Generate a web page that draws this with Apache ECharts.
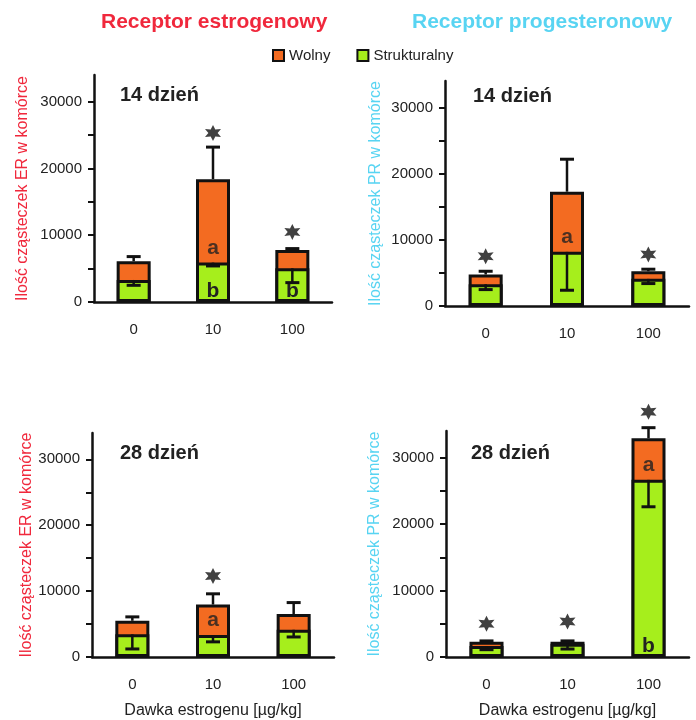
<!DOCTYPE html>
<html>
<head>
<meta charset="utf-8">
<script src="https://cdn.jsdelivr.net/npm/echarts@6/dist/echarts.min.js"></script>
<style>
html, body { margin: 0; padding: 0; background: #fff; }
#chart { width: 696px; height: 720px; }
</style>
</head>
<body>
<div id="chart"></div>
<script>
const categories = ['0', '10', '100'];
const yTicks = [0, 5000, 10000, 15000, 20000, 25000, 30000];
const yLabels = [0, 10000, 20000, 30000];

// ER, 14 dzien
const er14Strukt = [3300, 5900, 5050];
const er14Wolny = [2800, 12500, 2750];
const er14ErrUp = [6800, 23200, 8000];
const er14ErrDown = [2500, 5400, 2900];
const er14Stars = [null, 25300, 10500];
const er14LetterW = ['', 'a', ''];
const er14LetterS = ['', 'b', 'b'];

// PR, 14 dzien
const pr14Strukt = [3290, 8180, 4100];
const pr14Wolny = [1470, 9090, 1150];
const pr14ErrUp = [5250, 22180, 5560];
const pr14ErrDown = [2480, 2380, 3390];
const pr14Stars = [7500, null, 7800];
const pr14LetterW = ['', 'a', ''];
const pr14LetterS = ['', '', ''];

// ER, 28 dzien
const er28Strukt = [3440, 3330, 4130];
const er28Wolny = [2060, 4630, 2400];
const er28ErrUp = [6090, 9590, 8260];
const er28ErrDown = [1220, 2300, 3040];
const er28Stars = [null, 12300, null];
const er28LetterW = ['', 'a', ''];
const er28LetterS = ['', '', ''];

// PR, 28 dzien
const pr28Strukt = [1650, 2000, 26650];
const pr28Wolny = [630, 280, 6250];
const pr28ErrUp = [2420, 2420, 34500];
const pr28ErrDown = [1100, 1200, 22600];
const pr28Stars = [5000, 5350, 36900];
const pr28LetterW = ['', '', 'a'];
const pr28LetterS = ['', '', 'b'];

const FONT = 'Liberation Sans, Arial, sans-serif';
const ORANGE = '#F36B21';
const GREEN = '#A6EE1C';
const RED = '#F0283C';
const CYAN = '#58D4F2';
// gwiazdka szescioramienna
const STAR = 'path://M0,-10 L2.5,-4.33 L8.66,-5 L5,0 L8.66,5 L2.5,4.33 L0,10 L-2.5,4.33 L-8.66,5 L-5,0 L-8.66,-5 L-2.5,-4.33 Z';

const chart = echarts.init(document.getElementById('chart'));

function renderErr (params, api) {
  const a = api.coord([api.value(0), api.value(1)]);
  const b = api.coord([api.value(0), api.value(2)]);
  return {
    type: 'group',
    children: [
      { type: 'line', shape: { x1: a[0], y1: a[1], x2: b[0], y2: b[1] }, style: { stroke: '#111', lineWidth: 2.5 } },
      { type: 'line', shape: { x1: b[0] - 7, y1: b[1], x2: b[0] + 7, y2: b[1] }, style: { stroke: '#111', lineWidth: 3 } }
    ]
  };
}

const grids = [], xAxes = [], yAxes = [], series = [], titles = [];

function panel (idx, box, yName, yColor, nameGap, heading, headPos, strukt, wolny, errUp, errDown, stars, lettersW, lettersS, xName) {
  const total = strukt.map((v, i) => v + wolny[i]);
  grids.push(box);
  xAxes.push({
    type: 'category', gridIndex: idx, data: categories,
    axisLine: { lineStyle: { color: '#111', width: 2.5 } },
    axisTick: { length: 6, lineStyle: { color: '#111', width: 2 } },
    axisLabel: { color: '#222', fontSize: 15, fontFamily: FONT, margin: 20 },
    name: xName, nameLocation: 'middle', nameGap: 46,
    nameTextStyle: { color: '#222', fontSize: 16, fontFamily: FONT }
  });
  yAxes.push({
    type: 'value', gridIndex: idx, min: 0, max: 34000,
    name: yName, nameLocation: 'middle', nameRotate: 90, nameGap: nameGap,
    nameTextStyle: { color: yColor, fontSize: 16, fontFamily: FONT },
    splitLine: { show: false },
    axisLine: { show: true, lineStyle: { color: '#111', width: 2.5 } },
    axisTick: { show: true, length: 6, customValues: yTicks, lineStyle: { color: '#111', width: 2 } },
    axisLabel: { customValues: yLabels, formatter: v => String(v), color: '#222', fontSize: 15, fontFamily: FONT, margin: 12 }
  });
  titles.push({
    text: heading, left: headPos[0], top: headPos[1], padding: 0,
    textStyle: { fontSize: 20, fontWeight: 'bold', color: '#222', fontFamily: FONT }
  });
  const letter = { show: true, fontSize: 21, fontWeight: 'bold', color: '#222', fontFamily: FONT };
  // Wolny: rysowany jako caly slupek (strukturalny + wolny), strukturalny na wierzchu
  series.push({
    name: 'Wolny', type: 'bar', xAxisIndex: idx, yAxisIndex: idx,
    barWidth: 34, barGap: '-100%', data: total,
    itemStyle: { color: ORANGE, borderColor: '#111', borderWidth: 3 }
  });
  series.push({
    name: 'Strukturalny', type: 'bar', xAxisIndex: idx, yAxisIndex: idx,
    barWidth: 34, barGap: '-100%', data: strukt,
    itemStyle: { color: GREEN, borderColor: '#111', borderWidth: 3 },
    label: Object.assign({}, letter, { position: 'insideBottom', distance: 0, formatter: p => lettersS[p.dataIndex] })
  });
  series.push({
    type: 'scatter', xAxisIndex: idx, yAxisIndex: idx, symbolSize: 0, z: 4, silent: true,
    data: strukt.map((v, i) => [i, v]),
    label: Object.assign({}, letter, { position: 'top', distance: 4, formatter: p => lettersW[p.dataIndex] })
  });
  series.push({
    type: 'custom', xAxisIndex: idx, yAxisIndex: idx, z: 5, renderItem: renderErr,
    data: categories.map((c, i) => [i, total[i], errUp[i]])
  });
  series.push({
    type: 'custom', xAxisIndex: idx, yAxisIndex: idx, z: 5, renderItem: renderErr,
    data: categories.map((c, i) => [i, strukt[i], errDown[i]])
  });
  series.push({
    type: 'scatter', xAxisIndex: idx, yAxisIndex: idx, clip: false, z: 6,
    symbol: STAR, symbolSize: 16, itemStyle: { color: '#111' },
    data: categories.map((c, i) => [i, stars[i]]).filter(d => d[1] !== null)
  });
}

panel(0, { left: 94, top: 75, width: 238, height: 227 }, 'Ilość cząsteczek ER w komórce', RED, 63,
  '14 dzień', [120, 85], er14Strukt, er14Wolny, er14ErrUp, er14ErrDown, er14Stars, er14LetterW, er14LetterS, '');
panel(1, { left: 445, top: 81, width: 244, height: 225 }, 'Ilość cząsteczek PR w komórce', CYAN, 61,
  '14 dzień', [473, 86], pr14Strukt, pr14Wolny, pr14ErrUp, pr14ErrDown, pr14Stars, pr14LetterW, pr14LetterS, '');
panel(2, { left: 92, top: 433, width: 242, height: 230 }, 'Ilość cząsteczek ER w komórce', RED, 54,
  '28 dzień', [120, 443], er28Strukt, er28Wolny, er28ErrUp, er28ErrDown, er28Stars, er28LetterW, er28LetterS, 'Dawka estrogenu [µg/kg]');
panel(3, { left: 446, top: 431, width: 243, height: 233 }, 'Ilość cząsteczek PR w komórce', CYAN, 63,
  '28 dzień', [471, 443], pr28Strukt, pr28Wolny, pr28ErrUp, pr28ErrDown, pr28Stars, pr28LetterW, pr28LetterS, 'Dawka estrogenu [µg/kg]');

titles.push({
  text: 'Receptor estrogenowy', left: 101, top: 12, padding: 0,
  textStyle: { fontSize: 21, fontWeight: 'bold', color: RED, fontFamily: FONT }
});
titles.push({
  text: 'Receptor progesteronowy', left: 412, top: 12, padding: 0,
  textStyle: { fontSize: 21, fontWeight: 'bold', color: CYAN, fontFamily: FONT }
});

chart.setOption({
  animation: false,
  title: titles,
  legend: {
    data: ['Wolny', 'Strukturalny'], left: 272, top: 48, padding: 0,
    icon: 'rect', itemWidth: 11, itemHeight: 11, itemGap: 26,
    itemStyle: { borderWidth: 2, borderColor: '#111' },
    textStyle: { fontSize: 15, color: '#222', fontFamily: FONT }
  },
  grid: grids,
  xAxis: xAxes,
  yAxis: yAxes,
  series: series
});
</script>
</body>
</html>
